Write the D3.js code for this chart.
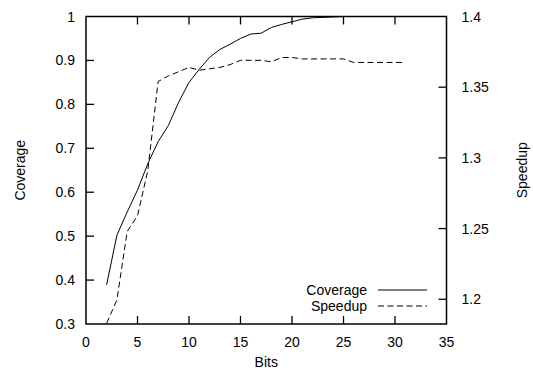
<!DOCTYPE html>
<html><head><meta charset="utf-8">
<script src="https://cdn.jsdelivr.net/npm/d3@7"></script>
<style>body{margin:0;background:#fff}svg{display:block}text{font-family:"Liberation Sans",Arial,sans-serif;font-size:14px;fill:#000}</style>
</head><body><svg id="c" width="533" height="370"></svg>
<script>
const bits = [2,3,4,5,6,7,8,9,10,11,12,13,14,15,16,17,18,19,20,21,22,23,24,25,26,27,28,29,30,31];
const coverage = [0.389,0.502,0.555,0.605,0.665,0.715,0.752,0.805,0.850,0.880,0.907,0.925,0.937,0.950,0.960,0.962,0.975,0.982,0.988,0.994,0.997,0.998,0.999,1.0,1.0,1.0,1.0,1.0,1.0,1.0];
const speedup = [1.183,1.1995,1.248,1.259,1.291,1.354,1.358,1.361,1.364,1.362,1.363,1.364,1.366,1.369,1.369,1.369,1.368,1.371,1.371,1.370,1.370,1.370,1.370,1.370,1.3675,1.3675,1.3675,1.3675,1.3675,1.3675];
const xTicks = [0,5,10,15,20,25,30,35];
const yTicks = [0.3,0.4,0.5,0.6,0.7,0.8,0.9,1];
const y2Ticks = [1.2,1.25,1.3,1.35,1.4];

const svg = d3.select("#c");
const L=86, R=446.5, T=16.5, B=324;
const x = d3.scaleLinear().domain([0,35]).range([L,R]);
const y = d3.scaleLinear().domain([0.3,1]).range([B,T]);
const y2 = d3.scaleLinear().domain([1.1825,1.4]).range([B,T]);
const tl = 8;

const g = svg.append("g");
xTicks.forEach(v=>{
  if(v>0 && v<35){
    g.append("line").attr("x1",x(v)).attr("x2",x(v)).attr("y1",B).attr("y2",B-tl).attr("stroke","#000").attr("stroke-width",1.3);
    g.append("line").attr("x1",x(v)).attr("x2",x(v)).attr("y1",T).attr("y2",T+tl).attr("stroke","#000").attr("stroke-width",1.3);
  }
  g.append("text").attr("x",x(v)).attr("y",B+23).attr("text-anchor","middle").text(v);
});
yTicks.forEach(v=>{
  if(v>0.3 && v<1) g.append("line").attr("x1",L).attr("x2",L+tl).attr("y1",y(v)).attr("y2",y(v)).attr("stroke","#000").attr("stroke-width",1.3);
  g.append("text").attr("x",L-11).attr("y",y(v)+5).attr("text-anchor","end").text(d3.format("")(v));
});
y2Ticks.forEach(v=>{
  if(v<1.4) g.append("line").attr("x1",R).attr("x2",R-tl).attr("y1",y2(v)).attr("y2",y2(v)).attr("stroke","#000").attr("stroke-width",1.3);
  g.append("text").attr("x",R+15).attr("y",y2(v)+5).attr("text-anchor","start").text(v);
});
g.append("rect").attr("x",L).attr("y",T).attr("width",R-L).attr("height",B-T).attr("fill","none").attr("stroke","#000").attr("stroke-width",1.5);

const line1 = d3.line().x((d,i)=>x(bits[i])).y(d=>y(d));
const line2 = d3.line().x((d,i)=>x(bits[i])).y(d=>y2(d));
svg.append("path").attr("d",line1(coverage)).attr("fill","none").attr("stroke","#000").attr("stroke-width",1);
svg.append("path").attr("d",line2(speedup)).attr("fill","none").attr("stroke","#000").attr("stroke-width",1).attr("stroke-dasharray","6,3.5");

svg.append("text").attr("x",(L+R)/2).attr("y",367).attr("text-anchor","middle").text("Bits");
svg.append("text").attr("transform","translate(25,"+((T+B)/2)+") rotate(-90)").attr("text-anchor","middle").text("Coverage");
svg.append("text").attr("transform","translate(527,"+((T+B)/2)+") rotate(-90)").attr("text-anchor","middle").text("Speedup");

const leg = [["Coverage",null,290],["Speedup","6,3.5",306]];
leg.forEach(([t,dash,ly])=>{
  svg.append("text").attr("x",367).attr("y",ly+5).attr("text-anchor","end").text(t);
  const l = svg.append("line").attr("x1",378).attr("x2",427).attr("y1",ly).attr("y2",ly).attr("stroke","#000").attr("stroke-width",1);
  if(dash) l.attr("stroke-dasharray",dash);
});
</script></body></html>
